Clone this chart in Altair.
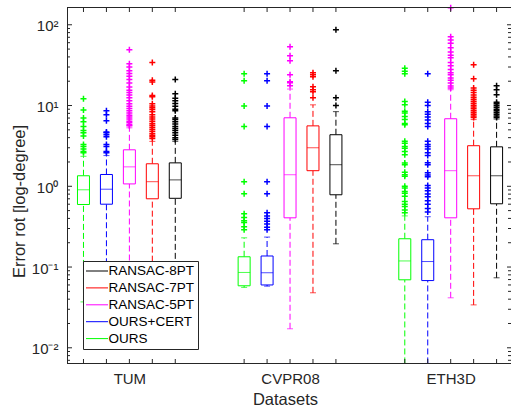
import altair as alt
import pandas as pd

# ---------------- data ----------------
datasets = ["TUM", "CVPR08", "ETH3D"]
methods = ["OURS", "OURS+CERT", "RANSAC-5PT", "RANSAC-7PT", "RANSAC-8PT"]
legend_order = ["RANSAC-8PT", "RANSAC-7PT", "RANSAC-5PT", "OURS+CERT", "OURS"]
legend_colors = ["#000000", "#ff0000", "#ff00ff", "#0000ff", "#00ff00"]
positions = [1, 2, 3, 4, 5, 8, 9, 10, 11, 12, 15, 16, 17, 18, 19]

# box statistics, order: dataset-major, methods as listed above
q1 = [0.595, 0.60, 1.07, 0.70, 0.71,
      0.0586, 0.060, 0.407, 1.56, 0.785,
      0.0695, 0.068, 0.407, 0.526, 0.607]
med = [0.905, 0.92, 1.74, 1.14, 1.20,
       0.0857, 0.085, 1.39, 3.0, 1.85,
       0.119, 0.117, 1.56, 1.35, 1.35]
q3 = [1.35, 1.40, 2.83, 1.90, 1.95,
      0.134, 0.137, 7.05, 5.6, 4.35,
      0.224, 0.218, 6.86, 3.18, 3.08]
lo = [0.037, 0.03, 0.02, 0.025, 0.035,
      0.056, 0.058, 0.0172, 0.048, 0.194,
      0.0064, 0.0064, 0.0416, 0.034, 0.0736]
hi = [2.35, 2.4, 5.3, 3.6, 3.6,
      0.23, 0.235, 16.0, 10.2, 8.4,
      0.43, 0.42, 15.7, 6.7, 6.8]

out_tum = [
    [12.1, 8.8, 7.0, 6.3, 5.5, 4.9, 4.6, 4.2, 3.3, 3.1, 2.9, 2.7, 2.6],
    [8.6, 7.7, 6.5, 4.7, 4.6, 4.35, 4.1, 3.3, 3.1, 2.7, 2.6],
    [49, 33, 30, 27, 25, 23, 21, 19, 17, 15.5, 14.5, 13.5, 12.5, 11.5, 10.5,
     9.8, 9.2, 8.6, 8.1, 7.6, 7.2, 6.8, 6.4, 6.1, 5.8, 5.6],
    [34, 20.5, 19.5, 13.3, 12.8, 10.5, 9.9, 9.4, 8.9, 8.4, 7.7, 7.2, 6.8, 6.4,
     6.0, 5.7, 5.4, 5.1, 4.8, 4.5, 4.3, 4.1, 3.9],
    [21, 14, 12.3, 11.5, 10.6, 9.8, 9.0, 8.6, 7.0, 6.7, 6.3, 5.9, 5.5, 5.2,
     4.9, 4.6, 4.3, 4.0, 3.8],
]
out_cvpr = [
    [24.7, 20.3, 9.9, 5.5, 1.14, 0.81, 0.456, 0.41, 0.375, 0.355, 0.316, 0.289],
    [24.7, 20.3, 9.9, 5.5, 1.14, 0.81, 0.47, 0.43, 0.40, 0.37, 0.34, 0.31, 0.29],
    [53.5, 41.3, 35.8, 24.0, 19.7, 19.1, 17.6],
    [25.5, 24.0, 22.7, 17.1, 15.7, 14.8, 12.5],
    [86.7, 26.9, 12.5, 10.0],
]
out_eth = [
    [29, 26.5, 24.7, 11.2, 10.2, 8.5, 8.1, 7.3, 6.7, 6.0, 5.8, 3.6, 3.4, 3.1,
     2.95, 2.7, 2.45, 1.94, 1.85, 1.49, 1.39, 1.33, 1.0, 0.95, 0.86, 0.82,
     0.75, 0.65, 0.60, 0.56, 0.51, 0.47],
    [24.7, 11.0, 10.0, 8.4, 7.8, 7.2, 6.6, 6.0, 5.5, 3.6, 3.3, 3.1, 2.9, 2.6,
     2.4, 1.95, 1.85, 1.47, 1.38, 1.31, 1.02, 0.95, 0.88, 0.80, 0.74, 0.66,
     0.60, 0.53, 0.48],
    [162, 71, 65, 59, 52, 46, 42, 39, 34, 31, 28, 25.5, 24, 22, 20.5, 19,
     17.5, 16.5],
    [32, 21.5, 16.5, 15.5, 14.5, 13.5, 12.7, 12.0, 11.3, 10.7, 10.1, 9.6, 9.1,
     8.6, 8.2, 7.8, 7.4, 7.1],
    [17.6, 15.7, 13.6, 11.0, 10.5, 10.0, 9.5, 9.0, 8.6, 8.2, 7.8, 7.4, 7.1],
]
y_major = [0.01, 0.1, 1, 10, 100]
x_label_pos = [3, 10, 17]

# ---------------- tables ----------------
rows = []
for d_i, d in enumerate(datasets):
    for m_i, m in enumerate(methods):
        k = d_i * 5 + m_i
        rows.append(dict(pos=positions[k], method=m, dataset=d, q1=q1[k],
                         med=med[k], q3=q3[k], lo=lo[k], hi=hi[k]))
box_df = pd.DataFrame(rows)

out_rows = []
for d_i, outs in enumerate([out_tum, out_cvpr, out_eth]):
    for m_i, vals in enumerate(outs):
        for v in vals:
            out_rows.append(dict(pos=positions[d_i * 5 + m_i], method=methods[m_i], v=v))
out_df = pd.DataFrame(out_rows)

minor_vals = [m * 10.0 ** k for k in range(-3, 3) for m in range(2, 10)
              if 0.0063 <= m * 10.0 ** k <= 166]
major_df = pd.DataFrame({"v": y_major})
minor_df = pd.DataFrame({"v": minor_vals})
pos_df = pd.DataFrame({"pos": positions})
one_df = pd.DataFrame({"a": [0]})

# ---------------- styling ----------------
W, H = 444, 357
TXT = "#262626"
FONT = "Liberation Sans"

xscale = alt.Scale(domain=[0.5, 19.41], nice=False, zero=False)
yscale = alt.Scale(type="log", domain=[0.0063, 166], nice=False)
cscale = alt.Scale(domain=legend_order, range=legend_colors)

x_axis = alt.Axis(
    values=x_label_pos,
    labelExpr="datum.value == 3 ? 'TUM' : (datum.value == 10 ? 'CVPR08' : 'ETH3D')",
    domain=False, ticks=False, tickSize=0, grid=False,
    labelFont=FONT, labelFontSize=15, labelColor=TXT, labelPadding=7, labelAngle=0,
    labelFlush=False,
    title="Datasets", titleFont=FONT, titleFontSize=16.5, titleFontWeight="normal",
    titleColor=TXT, titleX=218, titleY=35, titleAlign="center", titleBaseline="middle",
)
y_axis = alt.Axis(
    values=y_major,
    labelExpr="datum.value > 50 ? '10²' : (datum.value > 5 ? '10¹' : (datum.value > 0.5 ? '10⁰' : (datum.value > 0.05 ? '10⁻¹' : '10⁻²')))",
    domain=False, ticks=False, tickSize=0, grid=False,
    labelFont=FONT, labelFontSize=15, labelColor=TXT, labelPadding=9, labelOffset=1,
    title="Error rot [log-degree]", titleFont=FONT, titleFontSize=16.5,
    titleFontWeight="normal", titleColor=TXT, titleX=-47.5, titleY=194,
    titleAngle=270, titleAlign="center", titleBaseline="middle",
)

legend = alt.Legend(
    orient="none", legendX=16, legendY=254, direction="vertical", title=None,
    symbolType="stroke", symbolSize=529, symbolStrokeWidth=1, symbolOffset=-1.5,
    symbolDash=[1, 0], clipHeight=14, rowPadding=2.9, padding=3, labelOffset=0,
    labelFont=FONT, labelFontSize=13.5, labelColor="#000000",
    fillColor="white", strokeColor=TXT, zindex=5,
)


def X():
    return alt.X("pos:Q", scale=xscale, axis=x_axis)


def Y(f):
    return alt.Y(f"{f}:Q", scale=yscale, axis=y_axis)


def S():
    return alt.Stroke("method:N", scale=cscale, legend=legend)


C = alt.Color("method:N", scale=cscale, legend=None)

base_box = alt.Chart(box_df)

whisk_lo = base_box.mark_rule(strokeDash=[6, 3], strokeWidth=1).encode(
    x=X(), y=Y("lo"), y2="q1:Q", stroke=S())
whisk_hi = base_box.mark_rule(strokeDash=[6, 3], strokeWidth=1).encode(
    x=X(), y=Y("q3"), y2="hi:Q", stroke=S())
cap_lo = base_box.mark_tick(orient="horizontal", size=6, thickness=1).encode(
    x=X(), y=Y("lo"), color=C)
cap_hi = base_box.mark_tick(orient="horizontal", size=6, thickness=1).encode(
    x=X(), y=Y("hi"), color=C)
boxes = base_box.mark_bar(size=12, fill="white", strokeWidth=1).encode(
    x=X(), y=Y("q1"), y2="q3:Q", stroke=S())
medians = base_box.mark_tick(orient="horizontal", size=12, thickness=1).encode(
    x=X(), y=Y("med"), color=C)
outliers = alt.Chart(out_df).mark_point(
    shape="M-1,0H1M0,-1V1", size=36, filled=False, strokeWidth=1.5, opacity=1
).encode(x=X(), y=Y("v"), stroke=S())

# frame and inward ticks (MATLAB style)
frame_top = alt.Chart(one_df).mark_rule(color=TXT, strokeWidth=1).encode(
    x=alt.value(0), x2=alt.value(W), y=alt.value(0.5))
frame_left = alt.Chart(one_df).mark_rule(color=TXT, strokeWidth=1).encode(
    x=alt.value(0.5), y=alt.value(0), y2=alt.value(H))
frame_bottom = alt.Chart(one_df).mark_rule(color=TXT, strokeWidth=1).encode(
    x=alt.value(0), x2=alt.value(W), y=alt.value(H - 0.5))
ticks_top = alt.Chart(pos_df).mark_rule(color=TXT, strokeWidth=1).encode(
    x=X(), y=alt.value(0), y2=alt.value(5))
ticks_bottom = alt.Chart(pos_df).mark_rule(color=TXT, strokeWidth=1).encode(
    x=X(), y=alt.value(H - 5), y2=alt.value(H))
ticks_lmaj = alt.Chart(major_df).mark_rule(color=TXT, strokeWidth=1).encode(
    y=Y("v"), x=alt.value(0), x2=alt.value(5))
ticks_lmin = alt.Chart(minor_df).mark_rule(color=TXT, strokeWidth=1).encode(
    y=Y("v"), x=alt.value(0), x2=alt.value(3))
ticks_rmaj = alt.Chart(major_df).mark_rule(color=TXT, strokeWidth=1).encode(
    y=Y("v"), x=alt.value(W - 4), x2=alt.value(W))
ticks_rmin = alt.Chart(minor_df).mark_rule(color=TXT, strokeWidth=1).encode(
    y=Y("v"), x=alt.value(W - 3), x2=alt.value(W))

chart = alt.layer(
    whisk_lo, whisk_hi, cap_lo, cap_hi, boxes, medians, outliers,
    frame_top, frame_left, frame_bottom, ticks_top, ticks_bottom,
    ticks_lmaj, ticks_lmin, ticks_rmaj, ticks_rmin,
).properties(
    width=W, height=H,
    autosize=alt.AutoSizeParams(type="none"),
    padding={"left": 67, "top": 7, "right": 0, "bottom": 43},
    background="white",
).configure_view(stroke=None)

chart.save("out.html", embed_options={"renderer": "svg", "actions": False})
